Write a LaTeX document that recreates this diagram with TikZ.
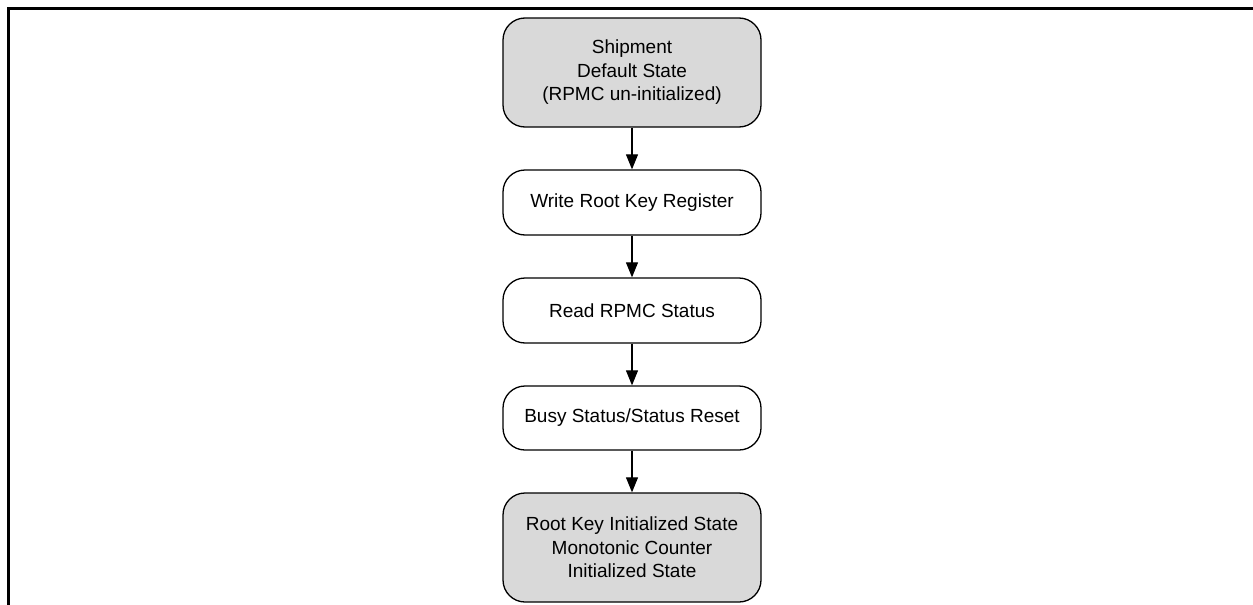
\documentclass[tikz,border=0pt]{standalone}
\usepackage{fontspec}
\setmainfont{Liberation Sans}
\usetikzlibrary{arrows.meta}
\definecolor{boxgray}{HTML}{D9D9D9}
\begin{document}
\begin{tikzpicture}[x=1pt,y=-1pt,
  stepbox/.style={draw=black, line width=1.3pt, rounded corners=22pt, minimum width=258pt, align=center, font=\fontsize{19}{23.5}\selectfont, inner sep=0pt},
  graybox/.style={stepbox, fill=boxgray},
  flow/.style={draw=black, line width=1.1pt, -{Triangle[length=15pt,width=12pt]}}]
\useasboundingbox (0,0) rectangle (1253,605);
\draw[line width=3pt] (8.5,605) -- (8.5,8.5) -- (1253,8.5);
\node[graybox, minimum height=109pt] (s1) at (632,72.5) {Shipment\\Default State\\(RPMC un-initialized)};
\node[stepbox, minimum height=65pt] (s2) at (632,202.5) {Write Root Key Register};
\node[stepbox, minimum height=65pt] (s3) at (632,310.5) {Read RPMC Status};
\node[stepbox, minimum height=64pt] (s4) at (632,418) {Busy Status/Status Reset};
\node[graybox, minimum height=109pt] (s5) at (632,547.5) {Root Key Initialized State\\Monotonic Counter\\Initialized State};
\draw[flow] (s1) -- (s2);
\draw[flow] (s2) -- (s3);
\draw[flow] (s3) -- (s4);
\draw[flow] (s4) -- (s5);
\end{tikzpicture}
\end{document}
